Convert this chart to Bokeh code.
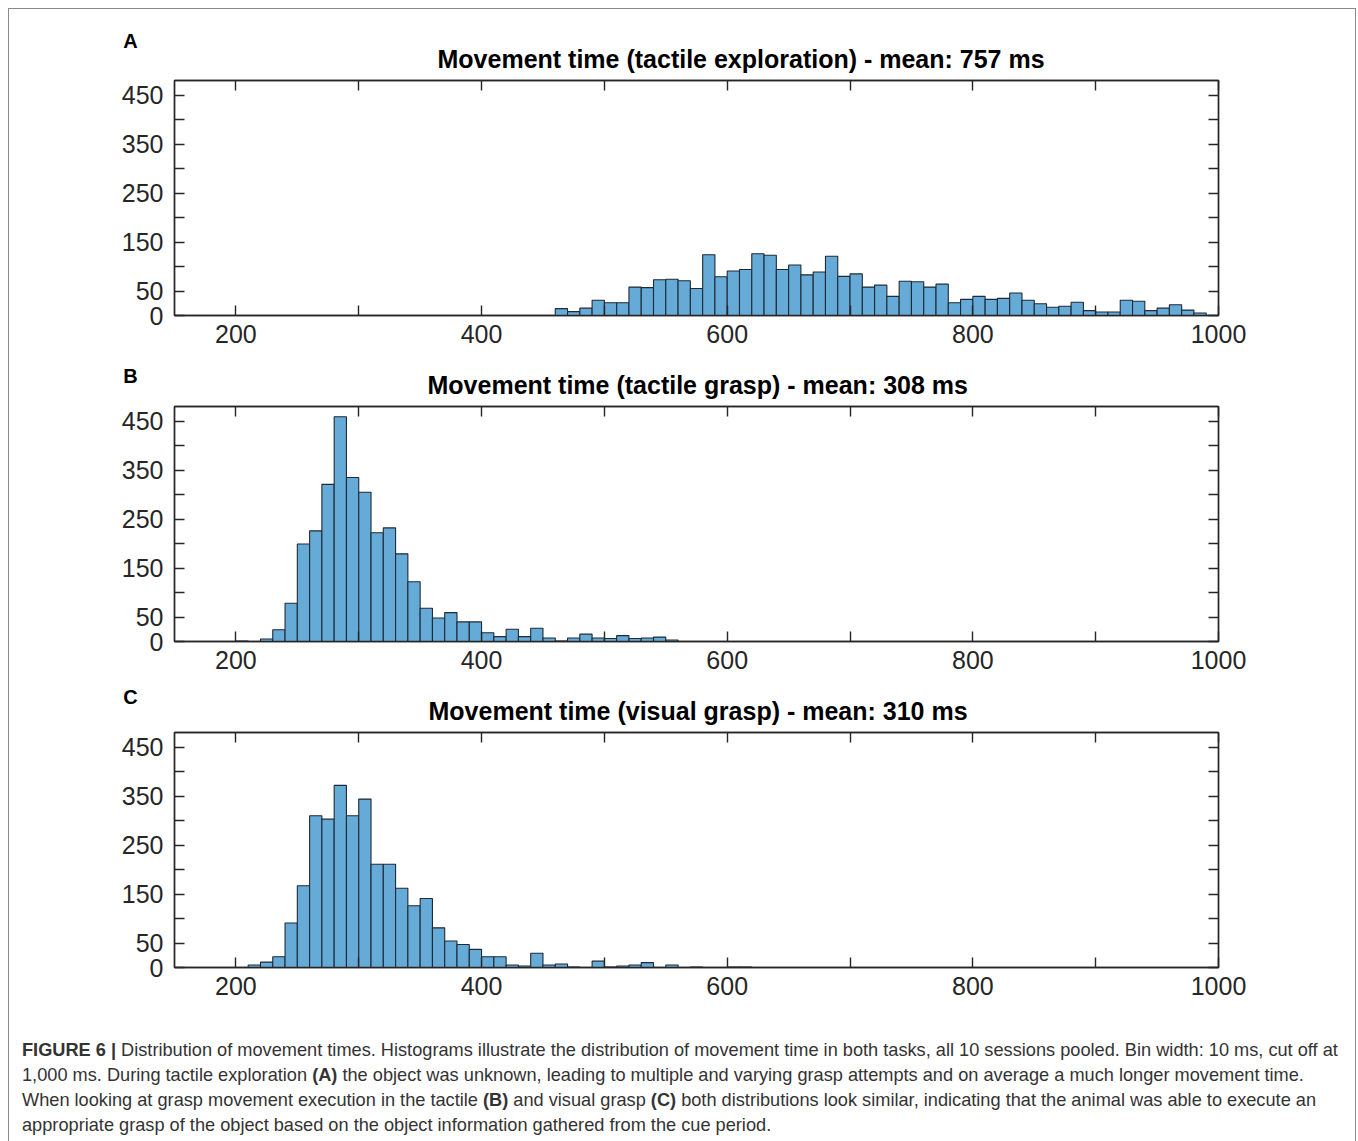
from bokeh.plotting import figure
from bokeh.layouts import column
from bokeh.models import Range1d, FixedTicker, LinearAxis, Label, Div, ColumnDataSource
from bokeh.embed import file_html
from bokeh.resources import INLINE

# ---- data: 10 ms bins (left edge in ms) and counts ----
explore_start = 460
explore_counts = [14, 8, 15, 31, 26, 26, 58, 57, 73, 74, 71, 55, 124, 79, 91, 94,
                  126, 123, 94, 103, 83, 89, 121, 80, 85, 58, 62, 39, 70, 69, 58, 64,
                  26, 33, 39, 33, 35, 46, 31, 24, 17, 19, 27, 10, 7, 7, 31, 29,
                  10, 15, 22, 11, 5]

tactile_start = 200
tactile_counts = [1, 0, 5, 24, 78, 199, 226, 321, 459, 335, 305, 222, 232, 179, 122,
                  68, 48, 59, 40, 40, 18, 10, 25, 10, 27, 7, 1, 7, 15, 7, 6, 12,
                  6, 7, 9, 3]

visual_start = 210
visual_counts = [5, 11, 22, 91, 167, 310, 303, 372, 310, 344, 211, 211, 162, 126, 141,
                 81, 54, 47, 37, 22, 22, 5, 3, 29, 5, 7, 1, 0, 13, 1, 3, 5, 10, 0,
                 5, 0, 1, 0, 0, 1, 1]

bin_width = 10
titles = ["Movement time (tactile exploration) - mean: 757 ms",
          "Movement time (tactile grasp) - mean: 308 ms",
          "Movement time (visual grasp) - mean: 310 ms"]
letters = ["A", "B", "C"]

x_ticks = list(range(200, 1001, 100))
x_labels = {t: (str(t) if t % 200 == 0 else "") for t in x_ticks}
y_ticks = list(range(0, 451, 50))
y_labels = {t: (str(t) if t in (0, 50, 150, 250, 350, 450) else "") for t in y_ticks}

INK = "#262626"
BAR = "#66AAD7"
EDGE = "#1e2a34"
FONT = "Liberation Sans"


def style_axis(ax, labels):
    ax.ticker = FixedTicker(ticks=list(labels.keys()))
    ax.major_label_overrides = labels
    ax.major_tick_in = 10
    ax.major_tick_out = 0
    ax.minor_tick_line_color = None
    ax.axis_line_color = INK
    ax.axis_line_width = 1.4
    ax.major_tick_line_color = INK
    ax.major_tick_line_width = 1.4
    ax.major_label_text_font = FONT
    ax.major_label_text_font_size = "25px"
    ax.major_label_text_color = INK


def panel(start, counts, title, letter, top_border, bottom_border,
          title_offset, letter_y):
    lefts = [start + i * bin_width for i in range(len(counts))]
    src = ColumnDataSource(dict(left=lefts, right=[l + bin_width for l in lefts],
                                top=counts, bottom=[0] * len(counts)))
    p = figure(width=1346, height=top_border + 235 + bottom_border,
               x_range=Range1d(150, 1000), y_range=Range1d(0, 480),
               output_backend="svg", toolbar_location=None,
               min_border_left=165, min_border_right=137,
               min_border_top=top_border, min_border_bottom=bottom_border)
    p.quad(left="left", right="right", top="top", bottom="bottom", source=src,
           fill_color=BAR, line_color=EDGE, line_width=1.1)
    p.xgrid.visible = False
    p.ygrid.visible = False
    p.outline_line_color = INK
    p.outline_line_width = 1.4
    p.background_fill_color = "white"
    p.border_fill_color = "white"

    style_axis(p.xaxis[0], x_labels)
    p.xaxis[0].major_label_standoff = 9
    style_axis(p.yaxis[0], y_labels)
    p.yaxis[0].major_label_standoff = 11

    top_ax = LinearAxis()
    style_axis(top_ax, {t: "" for t in x_ticks})
    top_ax.major_label_text_font_size = "0px"
    top_ax.major_label_standoff = 0
    p.add_layout(top_ax, "above")
    right_ax = LinearAxis()
    style_axis(right_ax, {t: "" for t in y_ticks})
    right_ax.major_label_text_font_size = "0px"
    right_ax.major_label_standoff = 0
    p.add_layout(right_ax, "right")

    # panel heading
    p.title.text = title
    p.title.align = "left"
    p.title.offset = title_offset
    p.title.standoff = 15
    p.title.text_font = FONT
    p.title.text_font_size = "25px"
    p.title.text_font_style = "bold"
    p.title.text_color = "black"

    # panel letter in the upper-left margin
    p.add_layout(Label(x=121, y=letter_y, x_units="canvas", y_units="canvas",
                       text=letter, text_align="center", text_baseline="middle",
                       text_font=FONT, text_font_size="20px",
                       text_font_style="bold", text_color="black"), "left")
    return p


pA = panel(explore_start, explore_counts, titles[0], "A", 71, 45, 263, 31)
pB = panel(tactile_start, tactile_counts, titles[1], "B", 46, 44, 253, 15)
pC = panel(visual_start, visual_counts, titles[2], "C", 47, 44, 254, 11)

caption = Div(
    text=("<b>FIGURE 6 |</b> Distribution of movement times. Histograms illustrate the "
          "distribution of movement time in both tasks, all 10 sessions pooled. Bin width: "
          "10 ms, cut off at<br>"
          "1,000 ms. During tactile exploration <b>(A)</b> the object was unknown, leading to "
          "multiple and varying grasp attempts and on average a much longer movement time.<br>"
          "When looking at grasp movement execution in the tactile <b>(B)</b> and visual grasp "
          "<b>(C)</b> both distributions look similar, indicating that the animal was able to "
          "execute an<br>"
          "appropriate grasp of the object based on the object information gathered from the "
          "cue period."),
    width=1346, height=130,
    styles={"font-family": "'Liberation Sans Narrow', 'Liberation Sans', sans-serif",
            "font-size": "18.2px", "line-height": "25px", "color": "#333333",
            "white-space": "nowrap", "padding-left": "8px", "padding-top": "22px",
            "box-sizing": "border-box"})

root = column(pA, pB, pC, caption, spacing=0, margin=(8, 0, 0, 8),
              width=1348, sizing_mode="fixed",
              styles={"border-left": "1px solid #8a8a8a",
                      "border-right": "1px solid #8a8a8a",
                      "border-top": "1px solid #8a8a8a",
                      "background-color": "white"})

open("out.html", "w").write(file_html(root, INLINE))
